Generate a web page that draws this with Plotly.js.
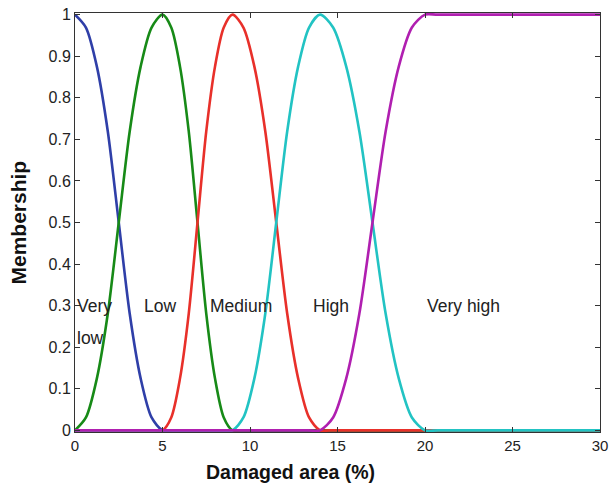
<!DOCTYPE html>
<html><head><meta charset="utf-8">
<script src="https://cdn.plot.ly/plotly-3.0.1.min.js"></script>
<style>html,body{margin:0;padding:0;background:#fff}#c{width:609px;height:487px}</style>
</head><body><div id="c"></div>
<script>
// Values (Damaged area % vs membership)
const veryLowX = [0, 0.625, 1.25, 1.875, 2.5, 3.125, 3.75, 4.375, 5, 5.6, 30];
const veryLowY = [1, 0.969, 0.875, 0.719, 0.5, 0.281, 0.125, 0.031, 0, 0, 0];

const lowX = [0, 0.625, 1.25, 1.875, 2.5, 3.125, 3.75, 4.375, 5, 5.5, 6, 6.5, 7, 7.5, 8, 8.5, 9, 9.5, 30];
const lowY = [0, 0.031, 0.125, 0.281, 0.5, 0.719, 0.875, 0.969, 1, 0.969, 0.875, 0.719, 0.5, 0.281, 0.125, 0.031, 0, 0, 0];

const mediumX = [0, 4.5, 5, 5.5, 6, 6.5, 7, 7.5, 8, 8.5, 9, 9.625, 10.25, 10.875, 11.5, 12.125, 12.75, 13.375, 14, 14.6, 30];
const mediumY = [0, 0, 0, 0.031, 0.125, 0.281, 0.5, 0.719, 0.875, 0.969, 1, 0.969, 0.875, 0.719, 0.5, 0.281, 0.125, 0.031, 0, 0, 0];

const highX = [0, 8.4, 9, 9.625, 10.25, 10.875, 11.5, 12.125, 12.75, 13.375, 14, 14.75, 15.5, 16.25, 17, 17.75, 18.5, 19.25, 20, 20.75, 30];
const highY = [0, 0, 0, 0.031, 0.125, 0.281, 0.5, 0.719, 0.875, 0.969, 1, 0.969, 0.875, 0.719, 0.5, 0.281, 0.125, 0.031, 0, 0, 0];

const veryHighX = [0, 13.3, 14, 14.75, 15.5, 16.25, 17, 17.75, 18.5, 19.25, 20, 20.75, 30];
const veryHighY = [0, 0, 0, 0.031, 0.125, 0.281, 0.5, 0.719, 0.875, 0.969, 1, 1, 1];

const labelText = ["Very", "low", "Low", "Medium", "High", "Very high"];
const labelX = [0, 0, 4.85, 9.5, 14.6, 22.2];
const labelY = [0.3, 0.223, 0.3, 0.3, 0.3, 0.3];
const labelAnchor = ["left", "left", "center", "center", "center", "center"];

const tickX = [0, 5, 10, 15, 20, 25, 30];
const tickY = [0, 0.1, 0.2, 0.3, 0.4, 0.5, 0.6, 0.7, 0.8, 0.9, 1];
const tickYText = ["0", "0.1", "0.2", "0.3", "0.4", "0.5", "0.6", "0.7", "0.8", "0.9", "1"];

const xTitle = "Damaged area (%)";
const yTitle = "Membership";

const series = [
  {x: veryLowX, y: veryLowY, color: "#2f3fa8"},
  {x: lowX, y: lowY, color: "#178a17"},
  {x: mediumX, y: mediumY, color: "#e8302a"},
  {x: highX, y: highY, color: "#22c3c3"},
  {x: veryHighX, y: veryHighY, color: "#b01fb0"}
];

const FONT = "Liberation Sans, Arial, Helvetica, sans-serif";

const traces = series.map(s => ({
  x: s.x, y: s.y, type: "scatter", mode: "lines",
  line: {color: s.color, width: 2.6, shape: "spline", smoothing: 0.8},
  hoverinfo: "skip", showlegend: false
}));

const annotations = labelText.map((t, i) => ({
  x: labelX[i], y: labelY[i], xref: "x", yref: "y", text: t,
  showarrow: false, xanchor: labelAnchor[i], yanchor: "middle",
  font: {family: FONT, size: 17.5, color: "#222"}
}));
annotations.push({
  x: (290 - 75) / 525, y: -0.095, xref: "paper", yref: "paper", text: "<b>" + xTitle + "</b>",
  showarrow: false, xanchor: "center", yanchor: "middle",
  font: {family: FONT, size: 19.5, color: "#111"}
});
annotations.push({
  x: (18 - 75) / 525, y: 0.5, xref: "paper", yref: "paper", text: "<b>" + yTitle + "</b>",
  showarrow: false, xanchor: "center", yanchor: "middle", textangle: -90,
  font: {family: FONT, size: 21, color: "#111"}
});

const axisCommon = {
  showgrid: false, zeroline: false, showline: true, linecolor: "#333", linewidth: 1,
  mirror: "ticks", ticks: "inside", ticklen: 5, tickcolor: "#333"
};

const layout = {
  width: 609, height: 487,
  margin: {l: 75, r: 9, t: 13, b: 55},
  paper_bgcolor: "#fff", plot_bgcolor: "#fff",
  xaxis: Object.assign({}, axisCommon, {
    range: [0, 30], tickvals: tickX,
    tickfont: {family: FONT, size: 15, color: "#222"}
  }),
  yaxis: Object.assign({}, axisCommon, {
    range: [-0.004, 1.004], tickvals: tickY, ticktext: tickYText,
    tickfont: {family: FONT, size: 16, color: "#222"}
  }),
  annotations: annotations
};

Plotly.newPlot("c", traces, layout, {displayModeBar: false, staticPlot: true});
</script>
</body></html>
